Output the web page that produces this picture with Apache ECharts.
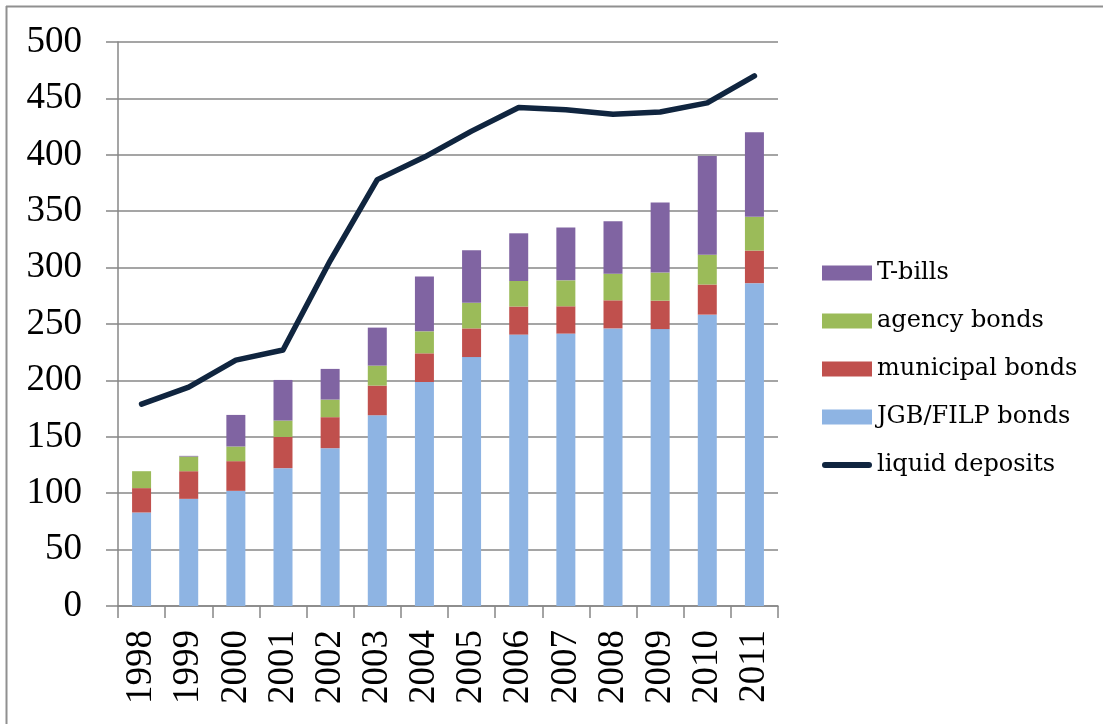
<!DOCTYPE html>
<html><head><meta charset="utf-8">
<script src="https://cdn.jsdelivr.net/npm/echarts@6/dist/echarts.min.js"></script>
<style>html,body{margin:0;padding:0;background:#fff;}#c{width:1103px;height:724px;}</style>
</head><body><div id="c"></div>
<script>
var years = ['1998','1999','2000','2001','2002','2003','2004','2005','2006','2007','2008','2009','2010','2011'];
var jgb = [82.9, 95.0, 102.1, 122.2, 139.9, 169.1, 198.6, 220.7, 240.6, 241.5, 246.1, 245.5, 258.3, 286.2];
var municipal = [21.6, 24.5, 26.3, 27.7, 27.5, 26.3, 25.4, 25.4, 24.9, 24.2, 24.9, 25.2, 26.7, 28.9];
var agency = [15.0, 13.0, 13.0, 14.5, 15.6, 17.7, 19.5, 22.7, 22.6, 23.0, 23.6, 24.9, 26.4, 29.9];
var tbills = [0, 0.6, 28.0, 36.0, 27.2, 33.7, 48.7, 46.6, 42.3, 46.9, 46.6, 62.1, 87.6, 74.9];
var liquid = [179, 194, 218, 227, 306, 378, 398, 421, 442, 440, 436, 438, 446, 470];
var yTicks = {min: 0, max: 500, interval: 50};

var axisFont = 'Liberation Serif';
var legFont = 'DejaVu Serif';
var gray = '#878787';
var navy = '#10253F';
var chart = echarts.init(document.getElementById('c'), null, {renderer: 'canvas'});
function bar(name, data, color) {
  return {name: name, type: 'bar', stack: 'total', data: data, barWidth: 19,
    itemStyle: {color: color}, emphasis: {disabled: true}};
}
chart.setOption({
  animation: false,
  backgroundColor: '#fff',
  grid: {left: 118, right: 325, top: 42, bottom: 118, containLabel: false},
  graphic: [
    {type: 'line', shape: {x1: 6, y1: 6.5, x2: 1103, y2: 6.5}, style: {stroke: '#909090', lineWidth: 2}},
    {type: 'line', shape: {x1: 6.5, y1: 6, x2: 6.5, y2: 724}, style: {stroke: '#909090', lineWidth: 2}}
  ],
  legend: {
    orient: 'vertical', left: 817, top: 256,
    itemWidth: 50, itemHeight: 15, itemGap: 24,
    textStyle: {fontFamily: legFont, fontSize: 24, color: '#000'},
    data: [
      {name: 'T-bills', icon: 'rect'},
      {name: 'agency bonds', icon: 'rect'},
      {name: 'municipal bonds', icon: 'rect'},
      {name: 'JGB/FILP bonds', icon: 'rect'},
      {name: 'liquid deposits', icon: 'path://M3,0 L47,0 A3,3 0 0 1 47,6 L3,6 A3,3 0 0 1 3,0 Z', itemStyle: {color: navy}}
    ],
    selectedMode: false
  },
  xAxis: {
    type: 'category', data: years, boundaryGap: true,
    axisLine: {show: true, lineStyle: {color: gray, width: 1.5}},
    axisTick: {show: true, length: 12, lineStyle: {color: gray, width: 1.5}, alignWithLabel: false},
    axisLabel: {rotate: 90, margin: 24, fontFamily: axisFont, fontSize: 37, color: '#000', interval: 0},
    splitLine: {show: false}
  },
  yAxis: {
    type: 'value', min: yTicks.min, max: yTicks.max, interval: yTicks.interval,
    axisLine: {show: true, lineStyle: {color: gray, width: 1.5}},
    axisTick: {show: true, length: 12, lineStyle: {color: gray, width: 1.5}},
    axisLabel: {margin: 36, fontFamily: axisFont, fontSize: 37, color: '#000'},
    splitLine: {show: true, lineStyle: {color: gray, width: 1.5}}
  },
  series: [
    bar('JGB/FILP bonds', jgb, '#8EB4E3'),
    bar('municipal bonds', municipal, '#C0504D'),
    bar('agency bonds', agency, '#9BBB59'),
    bar('T-bills', tbills, '#8064A2'),
    {name: 'liquid deposits', type: 'line', data: liquid, symbol: 'none', showSymbol: false,
      lineStyle: {color: navy, width: 5.5, cap: 'round', join: 'round'},
      itemStyle: {color: navy}, z: 5, emphasis: {disabled: true}}
  ]
});
</script></body></html>
